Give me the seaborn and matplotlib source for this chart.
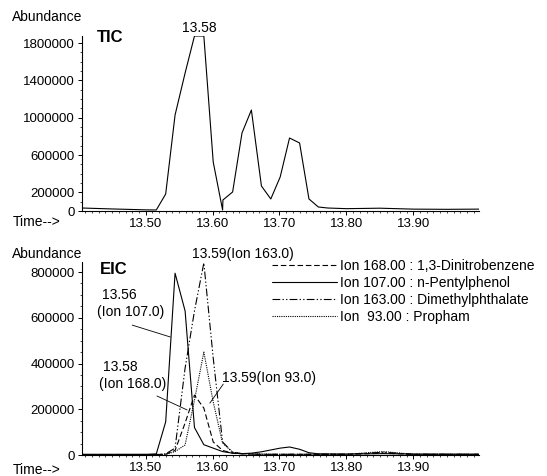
import numpy as np
import matplotlib.pyplot as plt
import pandas as pd
import seaborn as sns
from matplotlib.ticker import MultipleLocator, FixedLocator, FuncFormatter, FormatStrFormatter

# TIC trace (retention time in min, abundance)
tic_time = [13.405, 13.45, 13.502, 13.516, 13.530, 13.544, 13.559, 13.573, 13.587,
            13.601, 13.615, 13.6155, 13.630, 13.644, 13.658, 13.673, 13.687, 13.701,
            13.715, 13.730, 13.744, 13.758, 13.772, 13.80, 13.85, 13.90, 13.95, 13.998]
tic_abund = [32000, 22000, 12000, 11000, 182000, 1028000, 1478000, 1875000, 1875000,
             525000, 11000, 118000, 204000, 836000, 1082000, 268000, 129000, 364000,
             782000, 729000, 129000, 43000, 32000, 25000, 30000, 20000, 18000, 20000]

# EIC traces, all on the same scan times
eic_time = [13.405, 13.502, 13.516, 13.530, 13.544, 13.559, 13.573, 13.587, 13.601,
            13.615, 13.630, 13.644, 13.658, 13.673, 13.687, 13.701, 13.715, 13.730,
            13.744, 13.758, 13.80, 13.855, 13.90, 13.998]
ion168 = [2000, 2000, 2000, 3000, 20000, 140000, 262000, 205000, 57000,
          20000, 8000, 5000, 4000, 3000, 3000, 3000, 3000, 3000,
          3000, 3000, 3000, 8000, 3000, 3000]
ion107 = [3000, 3000, 5000, 145000, 795000, 630000, 120000, 45000, 30000,
          15000, 8000, 6000, 8000, 14000, 22000, 30000, 35000, 25000,
          10000, 5000, 4000, 6000, 4000, 3000]
ion163 = [2000, 2000, 2000, 5000, 30000, 380000, 630000, 840000, 424000,
          57000, 12000, 6000, 4000, 3000, 3000, 3000, 3000, 3000,
          3000, 3000, 3000, 12000, 3000, 3000]
ion93 = [2000, 2000, 2000, 3000, 15000, 44000, 240000, 450000, 232000,
         52000, 12000, 6000, 5000, 4000, 3000, 3000, 3000, 3000,
         3000, 3000, 3000, 15000, 3000, 3000]

eic_labels = ['Ion 168.00 : 1,3-Dinitrobenzene', 'Ion 107.00 : n-Pentylphenol',
              'Ion 163.00 : Dimethylphthalate', 'Ion  93.00 : Propham']

xticks = [13.50, 13.60, 13.70, 13.80, 13.90]
tic_yticks = [0, 200000, 600000, 1000000, 1400000, 1800000]
eic_yticks = [0, 200000, 400000, 600000, 800000]

sns.set_style('ticks', {'axes.edgecolor': 'black', 'xtick.color': 'black',
                        'ytick.color': 'black', 'text.color': 'black'})
plt.rcParams['font.family'] = ['Liberation Sans', 'DejaVu Sans']
plt.rcParams['font.size'] = 10

W, H = 547, 476
fig = plt.figure(figsize=(W / 100, H / 100), dpi=100)


def box(left, top, right, bottom):
    return [left / W, 1 - bottom / H, (right - left) / W, (bottom - top) / H]


ax1 = fig.add_axes(box(82, 36, 479, 211))
ax2 = fig.add_axes(box(82, 262, 479, 455))

# Top: TIC
sns.lineplot(x=tic_time, y=tic_abund, ax=ax1, color='black', linewidth=0.8, estimator=None)

# Bottom: EIC
eic = pd.DataFrame({
    'time': eic_time * 4,
    'abund': ion168 + ion107 + ion163 + ion93,
    'ion': [lab for lab in eic_labels for _ in eic_time],
})
dash_map = {eic_labels[0]: (5, 2.5), eic_labels[1]: '',
            eic_labels[2]: (7, 2, 1.2, 2, 1.2, 2), eic_labels[3]: (1, 1)}
sns.lineplot(data=eic, x='time', y='abund', style='ion', dashes=dash_map,
             color='black', linewidth=0.8, estimator=None, legend=False, ax=ax2)

ax2.legend(handles=ax2.get_lines()[:4], labels=eic_labels, loc='upper left',
           bbox_to_anchor=(272 / W, 1 - 259 / H), bbox_transform=fig.transFigure,
           frameon=False, borderpad=0, borderaxespad=0, handlelength=4.7,
           handletextpad=0.2, labelspacing=0.22, fontsize=10)

for ax, ylim, yt, yminor in [(ax1, 1875000, tic_yticks, 100000),
                             (ax2, 844000, eic_yticks, 50000)]:
    ax.set_xlim(13.405, 13.998)
    ax.set_ylim(0, ylim)
    ax.xaxis.set_major_locator(FixedLocator(xticks))
    ax.xaxis.set_minor_locator(MultipleLocator(0.01))
    ax.xaxis.set_major_formatter(FormatStrFormatter('%.2f'))
    ax.yaxis.set_major_locator(FixedLocator(yt))
    ax.yaxis.set_minor_locator(MultipleLocator(yminor))
    ax.yaxis.set_major_formatter(FuncFormatter(lambda v, p: f'{int(round(v))}'))
    ax.tick_params(which='major', length=3, width=0.7, labelsize=9.5, pad=2)
    ax.tick_params(which='minor', length=1.5, width=0.5)
    ax.set_xlabel('')
    ax.set_ylabel('')
    for s in ['top', 'right']:
        ax.spines[s].set_visible(False)
    for s in ['left', 'bottom']:
        ax.spines[s].set_linewidth(0.8)

# Peak labels
ax1.annotate('13.58', xy=(13.580, 1875000), xytext=(0, 1), textcoords='offset points',
             ha='center', va='bottom', fontsize=10)

ax2.text(13.5695, 879000, '13.59(Ion 163.0)', ha='left', va='center', fontsize=10)
ax2.text(13.435, 700000, '13.56', ha='left', va='center', fontsize=10)
ax2.text(13.4275, 625000, '(Ion 107.0)', ha='left', va='center', fontsize=10)
ax2.text(13.4365, 385000, '13.58', ha='left', va='center', fontsize=10)
ax2.text(13.4305, 310000, '(Ion 168.0)', ha='left', va='center', fontsize=10)
ax2.text(13.6143, 337000, '13.59(Ion 93.0)', ha='left', va='center', fontsize=10)

pointer = dict(arrowstyle='-', lw=0.6, color='black', shrinkA=0, shrinkB=0)
ax2.annotate('', xy=(13.537, 516000), xytext=(13.480, 568000), arrowprops=pointer)
ax2.annotate('', xy=(13.562, 197000), xytext=(13.517, 258000), arrowprops=pointer)
ax2.annotate('', xy=(13.596, 227000), xytext=(13.616, 310000), arrowprops=pointer)

# Panel captions
fig.text(82 / W, 1 - 17 / H, 'Abundance', ha='right', va='center', fontsize=10)
fig.text(82 / W, 1 - 254 / H, 'Abundance', ha='right', va='center', fontsize=10)
fig.text(13 / W, 1 - 222 / H, 'Time-->', ha='left', va='center', fontsize=10)
fig.text(13 / W, 1 - 470 / H, 'Time-->', ha='left', va='center', fontsize=10)
fig.text(97 / W, 1 - 37 / H, 'TIC', ha='left', va='center', fontsize=12, fontweight='bold')
fig.text(100 / W, 1 - 270 / H, 'EIC', ha='left', va='center', fontsize=12, fontweight='bold')

fig.savefig('out.png', dpi=100)
